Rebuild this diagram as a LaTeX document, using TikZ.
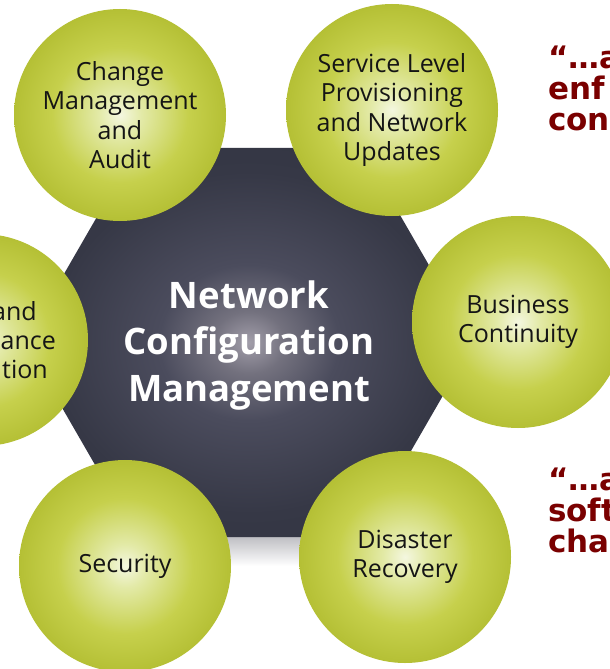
\documentclass[tikz,border=0pt]{standalone}
\usepackage{fontspec}
\setmainfont{Open Sans}
\newfontfamily\redfont{DejaVu Sans}
\usetikzlibrary{shapes.geometric}
\definecolor{ballA}{HTML}{F4F7E0}
\definecolor{ballB}{HTML}{E3EAA8}
\definecolor{ballC}{HTML}{C6D04C}
\definecolor{ballD}{HTML}{A7B323}
\definecolor{ballE}{HTML}{8C980E}
\definecolor{hexA}{HTML}{A29EAA}
\definecolor{hexB}{HTML}{73717E}
\definecolor{hexC}{HTML}{4B4C5D}
\definecolor{hexD}{HTML}{363846}
\definecolor{hexE}{HTML}{282B38}
\definecolor{shadowgray}{HTML}{BDBDC2}
\definecolor{quotered}{HTML}{7A0000}
\definecolor{bubbletext}{HTML}{151515}
\pgfdeclareradialshading{ballshade}{\pgfpoint{0bp}{0bp}}{color(0bp)=(ballA); color(5bp)=(ballB); color(16bp)=(ballC); color(32bp)=(ballD); color(50bp)=(ballE)}
\pgfdeclareradialshading{hexshade}{\pgfpoint{0bp}{0bp}}{color(0bp)=(hexA); color(4bp)=(hexB); color(10bp)=(hexC); color(22bp)=(hexD); color(50bp)=(hexE)}
\tikzset{
  bubble/.style={circle, minimum size=212pt, inner sep=0pt, shading=ballshade, align=center,
    text=bubbletext, font=\fontsize{25}{29.5}\selectfont},
  hub/.style={regular polygon, regular polygon sides=6, minimum size=449.2pt, inner sep=0pt,
    shading=hexshade, align=center, text=white, font=\fontsize{36.5}{46.5}\selectfont\bfseries},
  cuttext/.style={anchor=base east, inner sep=0pt, text=bubbletext, font=\fontsize{25}{29.5}\selectfont},
  quote/.style={anchor=north west, inner sep=0pt, align=left, text=quotered,
    font=\redfont\bfseries\fontsize{31}{31}\selectfont}
}
\begin{document}
\begin{tikzpicture}[x=1pt,y=-1pt]
\useasboundingbox (0,0) rectangle (610,669);
\clip (0,0) rectangle (610,669);
\fill[white] (0,0) rectangle (610,669);
\shade[top color=shadowgray, bottom color=white] (136.7,536) rectangle (361.3,566);
\node[hub] (hub) at (249,342.5) {};
\node[align=center, text=white, font=\fontsize{36.5}{46.5}\selectfont\bfseries] (title) at (249,345.5) {Network\\Configuration\\Management};
\node[bubble] (chg) at (120,115) {Change\\Management\\and\\Audit};
\node[bubble] (slp) at (392,110) {Service Level\\Provisioning\\and Network\\Updates};
\node[bubble] (bc) at (518,322) {Business\\Continuity};
\node[bubble] (left) at (-18,340) {};
\node[bubble] (sec) at (125,566) {Security};
\node[bubble] (dr) at (405,557) {Disaster\\Recovery};
\node[cuttext] (l1) at (37,320) {and};
\node[cuttext] (l2) at (56,349) {nance};
\node[cuttext] (l3) at (48,378) {tion};
\node[quote] (q1) at (548,46) {“…a\\enf\\con};
\node[quote] (q2) at (548,468) {“…a\\soft\\cha};
\end{tikzpicture}
\end{document}
